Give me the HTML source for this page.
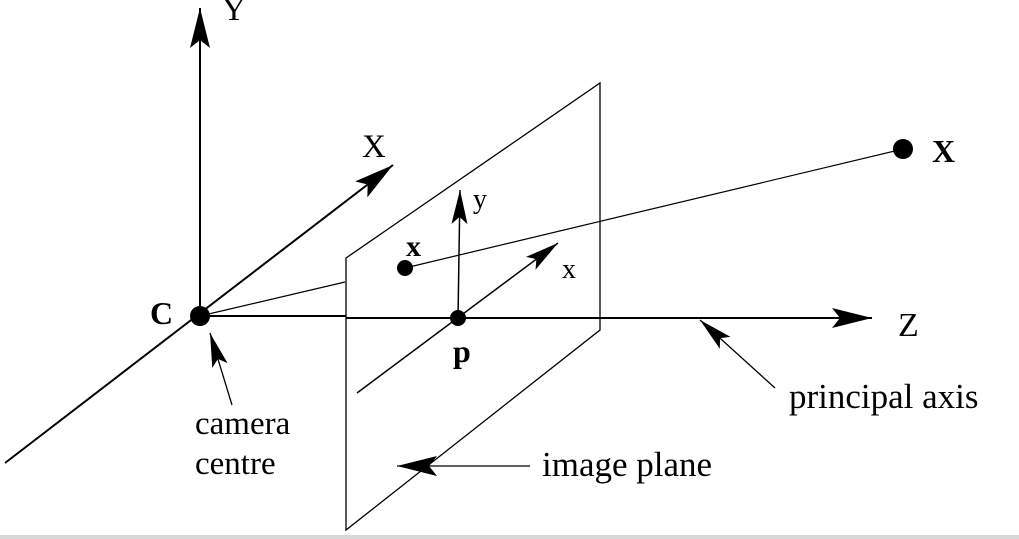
<!DOCTYPE html>
<html><head><meta charset="utf-8"><style>
html,body{margin:0;padding:0;background:#fff;}
svg{display:block;}
text{font-family:"Liberation Serif",serif;fill:#000;}
</style></head><body>
<svg width="1019" height="539" viewBox="0 0 1019 539">
<defs>
<marker id="ah" viewBox="0 0 40 20" refX="40" refY="10" markerWidth="40" markerHeight="20" markerUnits="userSpaceOnUse" orient="auto">
<path d="M0,0 L40,10 L0,20 L8,10 Z" fill="#000"/></marker>
<marker id="ahs" viewBox="0 0 34 16" refX="34" refY="8" markerWidth="34" markerHeight="16" markerUnits="userSpaceOnUse" orient="auto">
<path d="M0,0 L34,8 L0,16 L7,8 Z" fill="#000"/></marker>
</defs>
<rect x="0" y="535" width="1019" height="4" fill="#d8d8d8"/>
<line x1="200" y1="316" x2="200" y2="8" stroke="#000" stroke-width="2" marker-end="url(#ah)"/>
<text x="222" y="20" font-size="33">Y</text>
<line x1="5" y1="463" x2="393" y2="165" stroke="#000" stroke-width="2" marker-end="url(#ah)"/>
<text x="362" y="157" font-size="33">X</text>
<line x1="200" y1="316" x2="346" y2="316" stroke="#000" stroke-width="2"/>
<polygon points="346,258 600,83 600,330 346,530" fill="none" stroke="#000" stroke-width="1.3"/>
<line x1="600" y1="318" x2="872" y2="318" stroke="#000" stroke-width="2" marker-end="url(#ah)"/>
<line x1="346" y1="318" x2="600" y2="318" stroke="#000" stroke-width="2"/>
<text x="898" y="336" font-size="34">Z</text>
<line x1="200" y1="316" x2="345" y2="282" stroke="#000" stroke-width="1.2"/>
<line x1="405" y1="268" x2="903" y2="149" stroke="#000" stroke-width="1.2"/>
<line x1="357" y1="393" x2="558" y2="243" stroke="#000" stroke-width="1.5" marker-end="url(#ahs)"/>
<text x="562" y="278" font-size="28">x</text>
<line x1="458" y1="318" x2="460" y2="190" stroke="#000" stroke-width="1.5" marker-end="url(#ahs)"/>
<text x="473" y="208" font-size="28">y</text>
<circle cx="200" cy="316" r="10" fill="#000"/>
<text x="150" y="324" font-size="32" font-weight="bold">C</text>
<circle cx="405" cy="268" r="8" fill="#000"/>
<text x="406" y="256" font-size="30" font-weight="bold">x</text>
<circle cx="458" cy="318" r="8" fill="#000"/>
<text x="453" y="362" font-size="32" font-weight="bold">p</text>
<circle cx="903" cy="149" r="10" fill="#000"/>
<text x="932" y="162" font-size="32" font-weight="bold">X</text>
<line x1="232" y1="405" x2="210" y2="333" stroke="#000" stroke-width="1.3" marker-end="url(#ahs)"/>
<text x="195" y="434" font-size="33">camera</text>
<text x="195" y="474" font-size="33">centre</text>
<line x1="775" y1="388" x2="700" y2="320" stroke="#000" stroke-width="1.3" marker-end="url(#ahs)"/>
<text x="789" y="408" font-size="35">principal axis</text>
<line x1="530" y1="466" x2="397" y2="466" stroke="#000" stroke-width="1.3" marker-end="url(#ah)"/>
<text x="542" y="476" font-size="35">image plane</text>
</svg>
</body></html>
